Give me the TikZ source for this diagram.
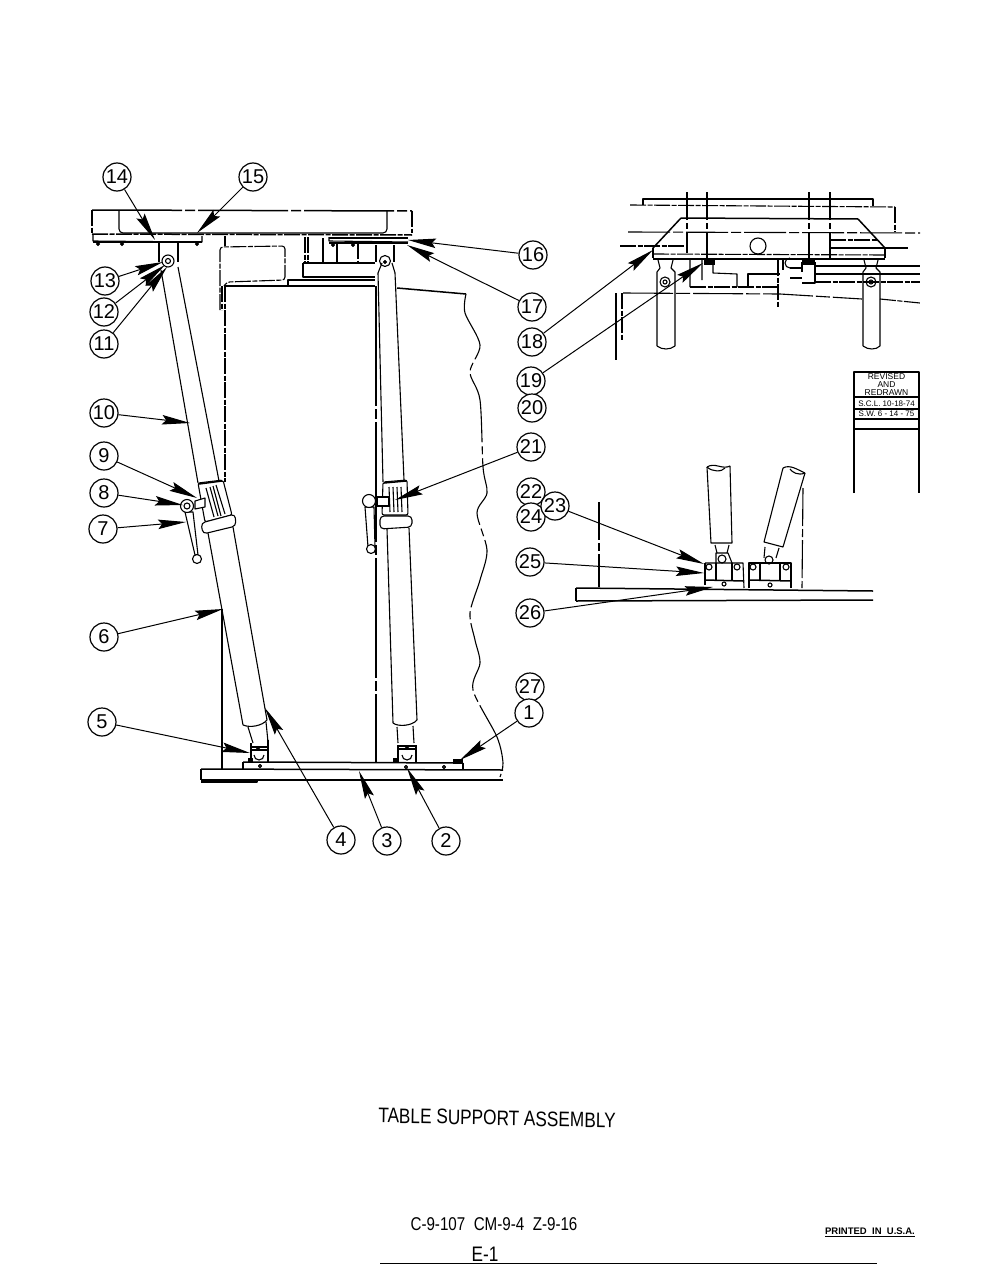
\documentclass[tikz,border=0pt]{standalone}
\usepackage{fontspec}
\setmainfont{Liberation Sans}
\usetikzlibrary{arrows.meta}

\begin{document}
\begin{tikzpicture}[
  x=1pt, y=-1pt,
  every node/.style={align=center},
  callout/.style={circle, draw, line width=1.2pt, minimum size=28pt, inner sep=0pt, fill=white, font=\fontsize{20}{20}\selectfont},
  leader/.style={line width=1pt, -{Stealth[length=28pt,width=9.5pt,inset=4pt]}},
  part/.style={line width=1.1pt, line join=round},
  heavy/.style={line width=1.5pt},
  gappy/.style={dash pattern=on 16pt off 1.5pt on 5pt off 1.5pt},
  cut/.style={line width=1.1pt, dash pattern=on 42pt off 3pt on 10pt off 3pt},
  thin/.style={line width=0.8pt},
  lettering/.style={transform shape, xscale=0.82, font=\fontsize{21}{21}\selectfont}
]
\useasboundingbox (0,0) rectangle (995,1287);

% Table top
\draw[heavy, dash pattern=on 90pt off 3pt on 10pt off 3pt] (92,210) -- (412,211);
\draw[part, gappy] (92,210) -- (92,233);
\draw[part, gappy] (412,211) -- (412,233);
\draw[part, rounded corners=4pt] (119,210) -- (119,233) -- (387,233) -- (387,211);
\draw[heavy, gappy] (92,234) -- (412,235);
\draw[part] (93,235) -- (93,241) -- (202,242) -- (202,236);
\draw[heavy] (93,242) -- (202,242);
\draw[part] (329,237) -- (329,241) -- (408,242);
\draw[heavy] (329,238) -- (408,238);
\draw[heavy] (329,243) -- (408,243);
\draw[fill=black] (98,244) circle[radius=1.8] (122,244) circle[radius=1.8] (197,244) circle[radius=1.8];
\draw[fill=black] (333,245) circle[radius=1.8] (353,245) circle[radius=1.8];

% Column behind the struts
\draw[part, gappy, rounded corners=3pt] (220,310) -- (220,247) -- (285,246) -- (285,280) -- (227,282) -- (224,286);
\draw[part, gappy] (225,286) -- (225,482);
\draw[part, gappy] (222,286) -- (222,310);
\draw[heavy] (225,286) -- (375,286);
\draw[part] (288,286) -- (288,280) -- (375,280);
\draw[part] (303,263) -- (375,263);
\draw[part] (303,263) -- (303,277) -- (375,277);
\draw[part, gappy] (305,237) -- (305,263) (308,237) -- (308,263);
\draw[part] (323,238) -- (323,263) (337,243) -- (337,263);
\draw[part, gappy] (358,243) -- (358,263);
\draw[part] (225,236) -- (225,246);
\draw[heavy] (397,288) -- (466,294);
\draw[part, dash pattern=on 70pt off 4pt on 8pt off 4pt] plot[smooth] coordinates {(466,294) (465,313) (480,345) (470,372) (480,400) (483,467) (487,493) (477,513) (487,550) (480,580) (470,613) (475,640) (480,663) (473,690) (497,737) (503,763) (500,777)};
\draw[part] (222,609) -- (222,769);
\draw[part, dash pattern=on 120pt off 3pt on 10pt off 3pt] (376,286) -- (376,762);

% Left strut, upper tube
\draw[part] (159,243) -- (159,262) (178,243) -- (178,262);
\draw[part] (168,261) circle[radius=6];
\draw[part] (168,261) circle[radius=2.5];
\draw[part] (161,270) -- (198,483);
\draw[part] (178,267) -- (219,481);

% Left collar
\draw[part, fill=white, rounded corners=2pt] (198,483) -- (223,480) -- (232,515) -- (205,522) -- cycle;
\draw[heavy] (199,484) -- (222,481);
\draw[part] (206,488) -- (214,517) (210,487) -- (218,516) (213,486) -- (221,516) (216,485) -- (225,514);
\draw[part, fill=white, rounded corners=4pt] (201,523) -- (235,514) -- (236,526) -- (203,534) -- cycle;

% Left strut, lower tube
\draw[part] (208,533) -- (243,725);
\draw[part] (233,527) -- (267,720);
\draw[part] (243,725) .. controls (250,728) and (262,726) .. (267,720);
\draw[part] (248,727) -- (253,743) (266,722) -- (268,742);

% Left handle
\draw[part, fill=white] (195,501) -- (205,498) -- (205,507) -- (195,509) -- cycle;
\draw[part, fill=white] (185,512) -- (193,512) -- (198,555) -- (195,555) -- cycle;
\draw[part, fill=white] (187,506) circle[radius=6.5];
\draw[part] (187,506) circle[radius=3];
\draw[part, fill=white] (197,559) circle[radius=4.5];

% Left clevis on the base plate
\draw[part] (251,762) -- (251,743) (268,762) -- (268,740);
\draw[part] (252,747) -- (267,747) (252,750) -- (267,750);
\draw[part] (254,755) arc[start angle=180, end angle=0, radius=5];
\draw[fill=black] (258,748) circle[radius=1.8];

% Right strut
\draw[part] (376,245) -- (376,262) (394,245) -- (394,262);
\draw[part] (385,261) circle[radius=5.5];
\draw[fill=black] (385,262) circle[radius=1.8];
\draw[part] (378,273) -- (383,482);
\draw[part] (395,273) -- (404,480);
\draw[part] (378,273) -- (382,263) (395,273) -- (392,263);
\draw[part, fill=white, rounded corners=2pt] (383,482) -- (407,480) -- (408,515) -- (382,515) -- cycle;
\draw[heavy] (384,483) -- (406,481);
\draw[part] (389,487) -- (390,512) (393,487) -- (394,512) (397,487) -- (398,512) (401,487) -- (402,512);
\draw[part, fill=white, rounded corners=4pt] (380,516) -- (412,516) -- (412,527) -- (380,529) -- cycle;
\draw[part] (387,529) -- (393,723);
\draw[part] (409,528) -- (417,720);
\draw[part] (393,723) .. controls (398,727) and (412,726) .. (417,720);
\draw[part] (397,727) -- (398,743) (413,726) -- (414,743);
\draw[part] (398,745) -- (398,762) (416,745) -- (416,762);
\draw[part] (399,746) -- (415,746) (399,749) -- (415,749);
\draw[part] (402,755) arc[start angle=180, end angle=0, radius=5];
\draw[fill=black] (407,748) circle[radius=1.8];

% Right handle
\draw[part, fill=white] (377,497) rectangle (389,506);
\draw[part, fill=white] (365,507) -- (374,507) -- (375,547) -- (368,547) -- cycle;
\draw[part, fill=white] (369,501) circle[radius=6.5];
\draw[part, fill=white] (371,549) circle[radius=4.5];

% Base plate and floor
\draw[heavy] (243,762) -- (463,763);
\draw[part] (243,762) -- (243,769) (463,763) -- (463,769);
\draw[heavy] (201,769) -- (503,770);
\draw[part] (201,769) -- (201,780);
\draw[heavy] (201,780) -- (503,780);
\draw[part] (201,782) -- (257,782) -- (257,780);
\draw[part] (260,766) circle[radius=1.5] (406,767) circle[radius=1.5] (444,767) circle[radius=1.5];
\draw[fill=black] (453,759) rectangle (462,763);
\draw[fill=black] (248,758) rectangle (252,762);
\draw[fill=black] (393,758) rectangle (397,762);

% Small view, top
\draw[part] (643,205) -- (643,199) -- (873,199) -- (873,206);
\draw[part, gappy] (630,205) -- (895,207);
\draw[part, gappy] (895,207) -- (895,232);
\draw[heavy] (681,218) -- (858,219);
\draw[heavy] (681,218) -- (653,248) (858,219) -- (885,248);
\draw[part] (653,248) -- (653,258) (885,248) -- (885,258);
\draw[part, gappy] (653,254) -- (885,255);
\draw[heavy] (653,259) -- (885,259);
\draw[cut] (628,232) -- (920,233);
\draw[part, gappy] (620,246) -- (685,246);
\draw[part, gappy] (830,240) -- (877,240);
\draw[part] (830,248) -- (908,248);
\draw[part, dash pattern=on 28pt off 3pt on 6pt off 3pt] (687,192) -- (687,253) (707,192) -- (707,260) (809,192) -- (809,260) (830,192) -- (830,260);
\draw[part] (758,246) circle[radius=8];

% Small view, legs
\draw[part] (658,260) -- (660,268) -- (657,272) -- (657,346);
\draw[part] (673,260) -- (671,268) -- (675,272) -- (675,346);
\draw[part] (657,346) .. controls (662,350) and (670,350) .. (675,346);
\draw[part] (665,282) circle[radius=5];
\draw[part] (665,282) circle[radius=2];
\draw[part] (864,260) -- (866,268) -- (863,272) -- (863,346);
\draw[part] (878,260) -- (876,268) -- (880,272) -- (880,346);
\draw[part] (863,346) .. controls (868,350) and (876,350) .. (880,346);
\draw[part] (871,282) circle[radius=5];
\draw[part] (871,282) circle[radius=2];

% Small view, under the table
\draw[part] (690,260) -- (690,287) (702,260) -- (702,280) (713,260) -- (713,273) -- (737,274) -- (737,287);
\draw[part] (748,287) -- (748,274) -- (780,274);
\draw[part, gappy] (778,260) -- (778,308);
\draw[part] (783,260) -- (783,270);
\draw[part, gappy] (690,287) -- (778,287);
\draw[fill=black] (704,260) rectangle (714,264);
\draw[fill=black] (802,260) rectangle (814,264);
\draw[part] (802,262) -- (802,272) (815,262) -- (815,283) -- (802,283);
\draw[part] (790,268) arc[start angle=90, end angle=270, radius=5];
\draw[part] (790,268) -- (802,268) (790,278) -- (802,278);
\draw[part] (815,266) -- (920,266) (815,274) -- (920,274);
\draw[part, gappy] (815,282) -- (920,282);
\draw[part, dash pattern=on 50pt off 3pt on 14pt off 3pt] (623,293) -- (780,294) -- (862,299);
\draw[part, gappy] (880,299) -- (920,303);
\draw[part, gappy] (622,293) -- (622,340);
\draw[part] (616,293) -- (616,360);

% Revision block
\draw[part] (854,493) -- (854,372) -- (919,372) -- (919,493);
\draw[line width=2pt] (854,397) -- (919,397);
\draw[part] (854,409) -- (919,409) (854,419) -- (919,419) (854,429) -- (919,429);
\node[font=\fontsize{8.5}{8}\selectfont] (revised) at (886.5,385) {REVISED\\AND\\REDRAWN};
\node[font=\fontsize{8}{8}\selectfont] (dateone) at (886.5,403.5) {S.C.L. 10-18-74};
\node[font=\fontsize{8}{8}\selectfont] (datetwo) at (886.5,414) {S.W. 6 - 14 - 75};

% Lower view, tubes and brackets
\draw[part] (707,467) .. controls (715,462) and (722,470) .. (730,466);
\draw[part] (707,467) .. controls (712,472) and (722,472) .. (725,468);
\draw[part] (707,467) -- (711,543) -- (732,543) -- (730,466);
\draw[part] (715,545) -- (717,553) (729,545) -- (727,553);
\draw[part] (716,563) -- (716,553) -- (728,553) -- (732,563);
\draw[part] (722,559) circle[radius=4];
\draw[part] (783,468) .. controls (790,464) and (798,470) .. (805,473);
\draw[part] (805,473) .. controls (798,476) and (792,472) .. (790,469);
\draw[part] (783,468) -- (764,542) -- (783,547) -- (805,473);
\draw[part] (765,547) -- (764,558) (779,548) -- (776,558);
\draw[part] (769,560) circle[radius=4];
\draw[part] (705,563) -- (743,563) -- (744,588);
\draw[part] (705,563) -- (705,585);
\draw[part] (716,563) -- (716,580) (732,563) -- (732,580);
\draw[heavy] (705,580) -- (743,581);
\draw[part] (709,567) circle[radius=3] (737,567) circle[radius=3] (724,584) circle[radius=2];
\draw[part] (749,588) -- (749,563) -- (791,563) -- (791,588);
\draw[part] (760,563) -- (760,580) (780,563) -- (780,580);
\draw[heavy] (749,580) -- (791,581);
\draw[part] (753,567) circle[radius=3] (786,567) circle[radius=3] (770,585) circle[radius=2];
\draw[part, dash pattern=on 38pt off 3pt on 8pt off 3pt] (599,502) -- (599,587);
\draw[part, dash pattern=on 38pt off 3pt on 8pt off 3pt] (803,488) -- (802,588);
\draw[heavy] (576,588) -- (873,591);
\draw[heavy] (576,601) -- (873,600);
\draw[part] (576,588) -- (576,601);

% Callouts along the left
\node[callout] (c14) at (117,177) {14};
\node[callout] (c15) at (253,177) {15};
\node[callout] (c13) at (105,281) {13};
\node[callout] (c12) at (104,312) {12};
\node[callout] (c11) at (104,344) {11};
\node[callout] (c10) at (104,413) {10};
\node[callout] (c9) at (104,456) {9};
\node[callout] (c8) at (104,493) {8};
\node[callout] (c7) at (103,529) {7};
\node[callout] (c6) at (104,637) {6};
\node[callout] (c5) at (102,722) {5};

% Callouts along the bottom
\node[callout] (c4) at (341,840) {4};
\node[callout] (c3) at (387,841) {3};
\node[callout] (c2) at (446,841) {2};

% Callouts in the middle
\node[callout] (c16) at (533,255) {16};
\node[callout] (c17) at (532,307) {17};
\node[callout] (c18) at (532,342) {18};
\node[callout] (c19) at (531,381) {19};
\node[callout] (c20) at (532,408) {20};
\node[callout] (c21) at (531,447) {21};
\node[callout] (c22) at (531,492) {22};
\node[callout] (c24) at (531,517) {24};
\node[callout] (c23) at (555,506) {23};
\node[callout] (c25) at (530,562) {25};
\node[callout] (c26) at (530,613) {26};
\node[callout] (c27) at (530,687) {27};
\node[callout] (c1) at (529,713) {1};

% Arrow ends
\coordinate (t14) at (155,240);
\coordinate (t15) at (197,233);
\coordinate (t13) at (163,262);
\coordinate (t12) at (165,265);
\coordinate (t11) at (167,267);
\coordinate (t10) at (190,423);
\coordinate (t9) at (197,498);
\coordinate (t8) at (183,505);
\coordinate (t7) at (186,522);
\coordinate (t6) at (223,609);
\coordinate (t5) at (250,753);
\coordinate (t4) at (265,708);
\coordinate (t3) at (359,771);
\coordinate (t2) at (407,768);
\coordinate (t1) at (460,760);
\coordinate (t16) at (408,240);
\coordinate (t17) at (407,245);
\coordinate (t18) at (653,250);
\coordinate (t19) at (703,263);
\coordinate (t21) at (395,500);
\coordinate (t23) at (704,564);
\coordinate (t25) at (704,573);
\coordinate (t26) at (713,587);

% Leaders
\draw[leader] (c14) -- (t14);
\draw[leader] (c15) -- (t15);
\draw[leader] (c13) -- (t13);
\draw[leader] (c12) -- (t12);
\draw[leader] (c11) -- (t11);
\draw[leader] (c10) -- (t10);
\draw[leader] (c9) -- (t9);
\draw[leader] (c8) -- (t8);
\draw[leader] (c7) -- (t7);
\draw[leader] (c6) -- (t6);
\draw[leader] (c5) -- (t5);
\draw[leader] (c4) -- (t4);
\draw[leader] (c3) -- (t3);
\draw[leader] (c2) -- (t2);
\draw[leader] (c1) -- (t1);
\draw[leader] (c16) -- (t16);
\draw[leader] (c17) -- (t17);
\draw[leader] (c18) -- (t18);
\draw[leader] (c19) -- (t19);
\draw[leader] (c21) -- (t21);
\draw[leader] (c23) -- (t23);
\draw[leader] (c25) -- (t25);
\draw[leader] (c26) -- (t26);

% Lettering
\node[lettering, rotate=-1] (title) at (497,1118) {TABLE SUPPORT ASSEMBLY};
\node[lettering, font=\fontsize{18.5}{18.5}\selectfont] (codes) at (494,1224) {C-9-107\ \ CM-9-4\ \ Z-9-16};
\node[lettering] (sheet) at (485,1254) {E-1};
\node[font=\bfseries\fontsize{9.5}{10}\selectfont] (printed) at (870,1231) {PRINTED\ \ IN\ \ U.S.A.};
\coordinate (ruleleft) at (380,1263);
\coordinate (ruleright) at (877,1263);
\draw[thin] (ruleleft) -- (ruleright);
\coordinate (printleft) at (825,1236);
\coordinate (printright) at (915,1236);
\draw[thin] (printleft) -- (printright);

\end{tikzpicture}
\end{document}
